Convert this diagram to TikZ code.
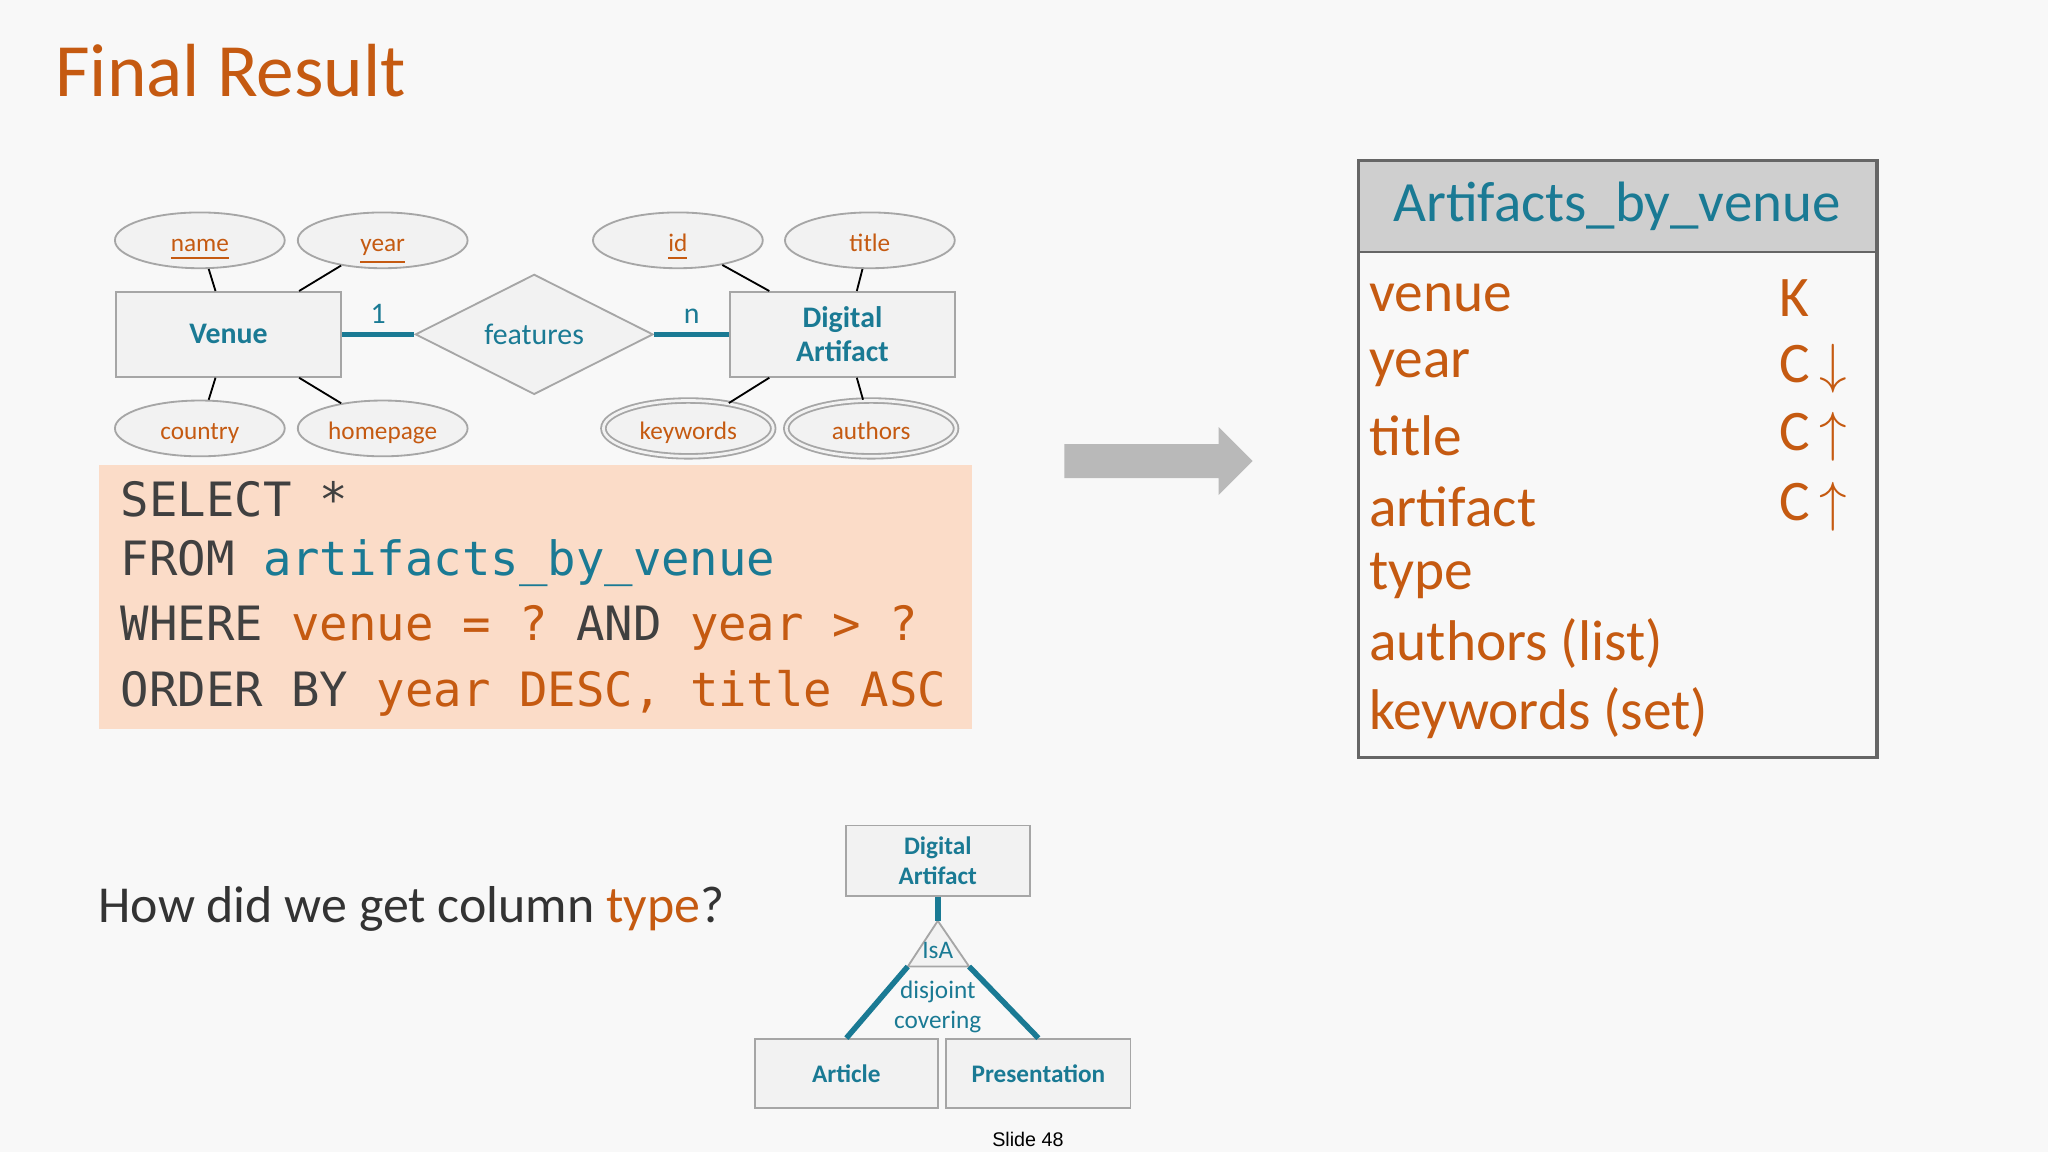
\documentclass[tikz,border=0pt]{standalone}
\usepackage{fontspec}
\setmainfont{Carlito}
\setmonofont{DejaVu Sans Mono}
\newfontfamily\slidefont{Liberation Sans}
\usetikzlibrary{shapes.geometric,positioning}
\definecolor{orng}{HTML}{C55A11}
\definecolor{teal}{HTML}{1A7A94}
\definecolor{peach}{HTML}{FBDCC8}
\definecolor{boxgray}{HTML}{F2F2F2}
\definecolor{headgray}{HTML}{CFCFCF}
\definecolor{bggray}{HTML}{F8F8F8}
\definecolor{codegray}{HTML}{404040}
\begin{document}
\begin{tikzpicture}
        [x=0.1mm, y=-0.1mm,
        attr/.style={ellipse, draw=gray!70, fill=boxgray, minimum width=1.3cm, minimum height=0.42cm, inner sep=0pt, text height=1.4ex, text depth=0.4ex, text=orng, font=\fontsize{5.5}{6}\selectfont},
        multi/.style={attr, double=boxgray, double distance=0.6pt},
        entity/.style={draw=gray!70, fill=boxgray, text=teal, align=center, inner sep=0pt, font=\bfseries\fontsize{6.5}{7.5}\selectfont},
        link/.style={black, thin},
        rel/.style={teal, very thick},
        card/.style={above=-1.5pt, text=teal, font=\fontsize{6.5}{7}\selectfont},
        row/.style={anchor=west, text=orng, font=\fontsize{12.5}{13}\selectfont},
        code/.style={anchor=west, text=codegray, font=\ttfamily\fontsize{10.3}{12}\selectfont}]

        \fill[bggray] (0,0) rectangle (1568,882);
        \useasboundingbox (0,0) rectangle (1568,882);

        % title
        \node[anchor=west, text=orng, font=\fontsize{16.4}{18}\selectfont] (title) at (30,54) {Final Result};

        % ER diagram
        \node[entity, minimum width=1.72cm, minimum height=0.65cm] (venue) at (175,256) {Venue};
        \node[entity, minimum width=1.72cm, minimum height=0.65cm] (art) at (645,256) {Digital\\Artifact};
        \node[diamond, draw=gray!70, fill=boxgray, minimum width=1.82cm, minimum height=0.9cm, inner sep=0pt, text=teal, font=\fontsize{6.5}{7}\selectfont] (feat) at (409,256) {features};

        \node[attr] (name) at (153,184) {\underline{name}};
        \node[attr] (year) at (293,184) {\underline{year}};
        \node[attr] (id) at (519,184) {\underline{id}};
        \node[attr] (titl) at (666,184) {title};
        \node[attr] (country) at (153,328) {country};
        \node[attr] (home) at (293,328) {homepage};
        \node[multi] (kw) at (527,328) {keywords};
        \node[multi] (auth) at (667,328) {authors};

        \draw[link] (name) -- (venue.north west -| 165,0);
        \draw[link] (year) -- (venue.north west -| 229,0);
        \draw[link] (country) -- (venue.south west -| 165,0);
        \draw[link] (home) -- (venue.south west -| 229,0);
        \draw[link] (id) -- (art.north west -| 589,0);
        \draw[link] (titl) -- (art.north west -| 656,0);
        \draw[link] (kw) -- (art.south west -| 589,0);
        \draw[link] (auth) -- (art.south west -| 656,0);

        \draw[rel] (venue) -- node[card] {1} (feat);
        \draw[rel] (feat) -- node[card] {n} (art);

        % query
        \fill[peach] (76,356) rectangle (744,558);
        \node[code] (q1) at (80,382) {SELECT *};
        \node[code] (q2) at (80,431) {FROM \textcolor{teal}{artifacts\_by\_venue}};
        \node[code] (q3) at (80,481) {WHERE \textcolor{orng}{venue = ?} AND \textcolor{orng}{year > ?}};
        \node[code] (q4) at (80,531) {ORDER BY \textcolor{orng}{year DESC, title ASC}};

        % arrow
        \fill[gray!55] (815,340) -- (933,340) -- (933,327) -- (959,353) -- (933,379) -- (933,366) -- (815,366) -- cycle;

        % table
        \fill[headgray] (1040,123) rectangle (1437,193);
        \draw[thick, gray!80!black] (1040,123) rectangle (1437,580);
        \draw[gray!80!black] (1040,193) -- (1437,193);
        \node[text=teal, font=\fontsize{12.4}{13}\selectfont] (head) at (1238,158) {Artifacts\_by\_venue};
        \foreach \y/\t in {228/venue, 282/year, 334/title, 388/artifact, 441/type, 493/authors (list), 546/keywords (set)}
            \node[row] at (1036,\y) {\t};
        \foreach \y/\t in {228/K, 282/C\,$\downarrow$, 334/C\,$\uparrow$, 388/C\,$\uparrow$}
            \node[row] at (1350,\y) {\t};

        % question
        \node[anchor=west, text=black!80, font=\fontsize{11.3}{12}\selectfont] (qu) at (63,696) {How did we get column \textcolor{orng}{type}?};

        % IsA hierarchy
        \node[entity, minimum width=1.41cm, minimum height=0.54cm, font=\bfseries\fontsize{5.5}{6.5}\selectfont] (dart) at (718,659) {Digital\\Artifact};
        \node[entity, minimum width=1.4cm, minimum height=0.53cm, font=\bfseries\fontsize{5.5}{6.5}\selectfont] (article) at (648,822) {Article};
        \node[entity, minimum width=1.41cm, minimum height=0.53cm, font=\bfseries\fontsize{5.5}{6.5}\selectfont] (pres) at (795,822) {Presentation};
        \coordinate (apex) at (718,705);
        \coordinate (bl) at (695,740);
        \coordinate (br) at (742,740);
        \filldraw[draw=gray!70, fill=boxgray] (apex) -- (bl) -- (br) -- cycle;
        \draw[rel] (dart) -- (apex);
        \draw[rel] (bl) -- (article.north);
        \draw[rel] (br) -- (pres.north);
        \node[text=teal, font=\fontsize{5.5}{6}\selectfont] at (718,728) {IsA};
        \node[text=teal, align=center, font=\fontsize{5.5}{6.6}\selectfont] at (718,771) {disjoint\\covering};

        \node[font=\slidefont\fontsize{4.3}{5}\selectfont] (slide) at (787,872) {Slide 48};
\end{tikzpicture}
\end{document}
